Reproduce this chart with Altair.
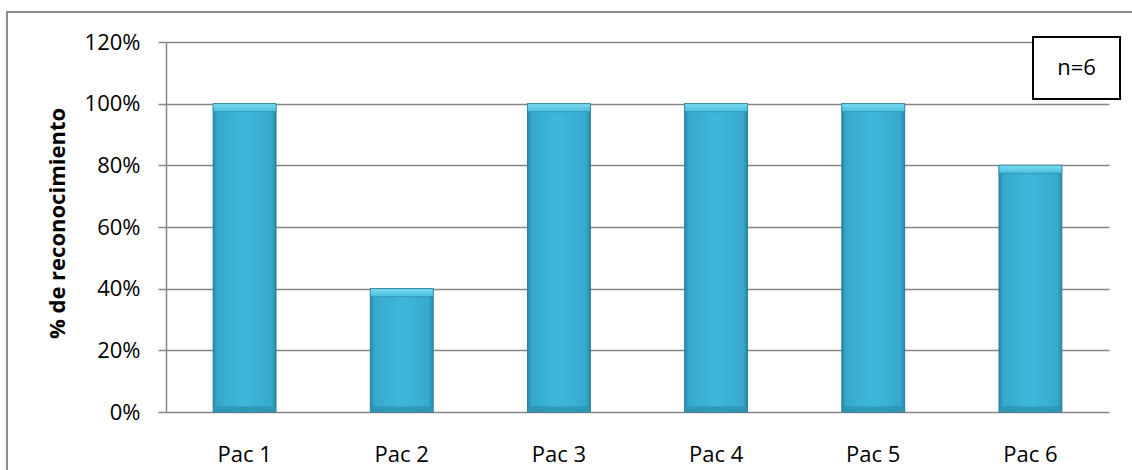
import altair as alt
import pandas as pd

# Recognition rate per patient
pacientes = ["Pac 1", "Pac 2", "Pac 3", "Pac 4", "Pac 5", "Pac 6"]
reconocimiento = [1.0, 0.4, 1.0, 1.0, 1.0, 0.8]
y_ticks = [0, 0.2, 0.4, 0.6, 0.8, 1.0, 1.2]
n_label = "n=6"

df = pd.DataFrame({"pac": pacientes, "val": reconocimiento})

W, H = 943, 370
FONT = "Open Sans"
GRID = "#868686"

x_enc = alt.X(
    "pac:N",
    sort=pacientes,
    title=None,
    scale=alt.Scale(paddingInner=0.6, paddingOuter=0.3),
    axis=alt.Axis(
        labelAngle=0, labelFont=FONT, labelFontSize=22, labelColor="#000000",
        ticks=False, domain=False, labelPadding=32, grid=False,
    ),
)
y_scale = alt.Scale(domain=[0, 1.2], nice=False)
y_enc = alt.Y(
    "val:Q",
    scale=y_scale,
    title="% de reconocimiento",
    axis=alt.Axis(
        values=y_ticks, format=".0%", labelFont=FONT, labelFontSize=22,
        labelColor="#000000", labelPadding=18, tickSize=8, tickColor=GRID,
        tickWidth=1.5, domainColor=GRID, domainWidth=1.5, gridColor=GRID,
        gridWidth=1.5, titleFont=FONT, titleFontSize=22, titleFontWeight="bold",
        titleColor="#000000", titleX=-109, titleY=H / 2 - 4, titleAngle=-90,
        titleAlign="center", titleBaseline="middle",
    ),
)

body_fill = alt.LinearGradient(
    gradient="linear", x1=0, x2=1, y1=0, y2=0,
    stops=[
        alt.GradientStop(offset=0, color="#2a8aa8"),
        alt.GradientStop(offset=0.07, color="#36a9cc"),
        alt.GradientStop(offset=0.5, color="#3db8dc"),
        alt.GradientStop(offset=0.93, color="#36a9cc"),
        alt.GradientStop(offset=1, color="#2a8aa8"),
    ],
)
bars = alt.Chart(df).mark_bar(
    color=body_fill, stroke="#2b7d97", strokeWidth=1
).encode(x=x_enc, y=y_enc)

# light bevel along the top of each bar
top_fill = alt.LinearGradient(
    gradient="linear", x1=0, x2=0, y1=0, y2=1,
    stops=[
        alt.GradientStop(offset=0, color="#7fdcf2"),
        alt.GradientStop(offset=1, color="#45bfe0"),
    ],
)
bevel_top = alt.Chart(df).transform_calculate(
    v2="datum.val - 0.026"
).mark_bar(color=top_fill, stroke="#2b7d97", strokeWidth=0.6).encode(
    x=alt.X("pac:N", sort=pacientes), y=alt.Y("val:Q", scale=y_scale), y2="v2:Q"
)

# darker bevel along the bottom
bevel_bottom = alt.Chart(df).transform_calculate(
    v2="0.018"
).mark_bar(color="#2d93b2", opacity=0.85).encode(
    x=alt.X("pac:N", sort=pacientes), y=alt.Y("v2:Q", scale=y_scale), y2=alt.datum(0)
)

# outer chart frame
frame = alt.Chart(df).mark_rect(
    fill=None, stroke="#8c8c8c", strokeWidth=1.5
).encode(
    x=alt.value(-159), x2=alt.value(990), y=alt.value(-30), y2=alt.value(460)
)

# sample-size box
box = alt.Chart(df).mark_rect(
    fill="#ffffff", stroke="#000000", strokeWidth=2
).encode(
    x=alt.value(867), x2=alt.value(954), y=alt.value(-5), y2=alt.value(57)
)
box_text = alt.Chart(pd.DataFrame({"t": [n_label]})).mark_text(
    font=FONT, fontSize=22, color="#000000", align="center", baseline="middle"
).encode(text="t:N", x=alt.value(910.5), y=alt.value(26))

chart = alt.layer(
    frame, bars, bevel_top, bevel_bottom, box, box_text
).properties(
    width=W, height=H,
    autosize=alt.AutoSizeParams(type="none"),
    padding={"left": 166, "top": 42, "right": 23, "bottom": 58},
    background="#ffffff",
).configure_view(stroke=None)

chart.save("out.html", embed_options={"renderer": "svg", "actions": False})
